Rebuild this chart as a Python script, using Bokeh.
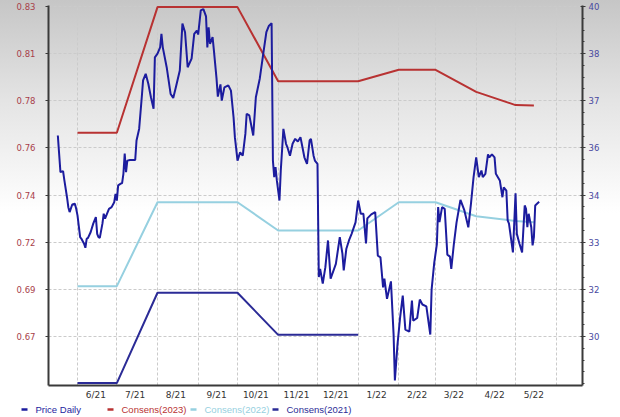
import numpy as np
import pandas as pd
from bokeh.plotting import figure
from bokeh.layouts import column
from bokeh.models import Range1d, LinearAxis, FixedTicker
from bokeh.core.properties import value
from bokeh.embed import file_html
from bokeh.resources import INLINE

# ---------------- data ----------------
price_start = "2021-05-15"   # day 0 of price_day
price_day = [2,4,6,7,9,10,11,13,15,16,17,19,20,22,23,24,25,27,29,31,
             32,33,34,36,37,38,41,43,45,46,47,48,50,51,52,53,54,55,57,61,
             62,64,66,67,69,71,73,75,76,78,80,81,82,85,88,90,92,95,97,99,
             101,104,106,108,109,111,113,115,116,117,118,120,121,123,124,126,127,129,132,134,
             136,137,138,139,141,143,145,146,148,151,153,156,159,161,163,165,166,167,168,169,
             171,172,174,176,177,179,181,183,185,187,188,190,192,194,195,197,198,200,201,202,
             204,206,208,210,214,217,219,220,222,224,226,229,231,233,235,237,238,241,244,246,
             248,250,251,253,256,258,259,261,263,265,267,270,272,273,276,278,280,283,286,287,
             289,291,292,293,295,297,299,301,302,304,306,309,312,315,317,319,321,323,325,326,
             328,330,331,333,335,336,339,341,342,344,345,346,349,350,351,352,354,356,358,359,
             360,361,363,364,365,366,369]
price_value = [36.09,34.98,35.01,34.73,34.22,33.92,33.77,34.00,34.02,33.87,
               33.67,33.01,32.96,32.81,32.69,32.96,32.99,33.16,33.42,33.62,
               33.11,33.01,32.99,33.42,33.72,33.57,33.87,33.92,34.07,34.32,
               34.12,34.58,34.63,34.65,34.93,35.54,34.98,35.33,35.35,35.35,
               35.94,36.29,37.25,37.76,37.96,37.66,37.25,36.90,38.46,38.57,
               38.76,39.17,38.77,38.16,37.35,37.23,37.55,38.06,39.48,39.22,
               38.16,38.42,39.17,39.27,39.15,39.88,39.92,39.70,38.76,39.37,
               38.87,39.07,38.67,37.82,37.27,37.64,37.15,37.55,37.61,37.45,
               36.64,36.04,35.69,35.33,35.58,35.48,36.14,36.75,36.70,36.09,
               37.25,37.82,38.67,39.22,39.42,39.49,35.33,34.83,35.13,34.73,
               34.12,35.03,36.29,35.84,35.74,35.48,35.84,35.99,35.91,36.04,
               35.84,35.43,35.23,35.94,35.99,35.48,35.33,35.23,31.80,32.05,
               31.60,32.10,32.91,31.75,32.20,33.01,32.51,32.00,32.66,32.91,
               33.11,33.46,34.12,33.72,33.72,32.82,33.58,33.70,33.77,32.45,
               32.40,31.49,31.75,31.14,31.67,30.08,28.67,29.76,30.58,31.24,
               30.21,30.15,31.09,30.48,30.56,31.12,30.97,30.91,30.06,31.42,
               32.23,32.79,33.92,33.47,33.92,33.87,32.48,32.42,32.05,32.81,
               33.45,34.14,33.82,33.31,34.02,34.83,35.43,34.83,35.03,34.83,
               34.93,35.52,35.43,35.52,35.43,34.93,34.73,34.22,34.52,34.42,
               33.52,33.42,32.55,33.42,34.34,33.11,32.81,32.55,33.97,33.87,
               33.31,33.72,33.31,32.76,33.01,33.97,34.08]

cons_2023_dates = ["2021-06-01", "2021-07-01", "2021-08-01", "2021-10-01", "2021-11-01", "2022-01-01",
                   "2022-02-01", "2022-03-01", "2022-04-01", "2022-05-01", "2022-05-15"]
cons_2023 = [0.7688, 0.7688, 0.8297, 0.8297, 0.7938, 0.7938, 0.7993, 0.7993, 0.7886, 0.7822, 0.7820]
cons_2022_dates = ["2021-06-01", "2021-07-01", "2021-08-01", "2021-10-01", "2021-11-01", "2022-01-01",
                   "2022-02-01", "2022-03-01", "2022-04-01", "2022-05-01", "2022-05-15"]
cons_2022 = [0.6944, 0.6944, 0.7351, 0.7351, 0.7214, 0.7214, 0.7351, 0.7351, 0.7283, 0.7260, 0.7254]
cons_2021_dates = ["2021-06-01", "2021-07-01", "2021-08-01", "2021-10-01", "2021-11-01", "2022-01-01"]
cons_2021 = [0.6474, 0.6474, 0.6912, 0.6912, 0.6708, 0.6708]

month_labels = ["6/21", "7/21", "8/21", "9/21", "10/21", "11/21", "12/21",
                "1/22", "2/22", "3/22", "4/22", "5/22"]
month_label_dates = ["2021-06-15", "2021-07-15", "2021-08-15", "2021-09-15", "2021-10-15",
                     "2021-11-15", "2021-12-15", "2022-01-15", "2022-02-15", "2022-03-15",
                     "2022-04-15", "2022-05-15"]
grid_month_dates = ["2021-06-01", "2021-07-01", "2021-08-01", "2021-09-01", "2021-10-01",
                    "2021-11-01", "2021-12-01", "2022-01-01", "2022-02-01", "2022-03-01",
                    "2022-04-01", "2022-05-01", "2022-06-01"]
left_tick_labels = ["0.67", "0.69", "0.72", "0.74", "0.76", "0.78", "0.81", "0.83"]
right_tick_labels = ["30", "32", "33", "34", "36", "37", "38", "40"]

legend_labels = ["Price Daily", "Consens(2023)", "Consens(2022)", "Consens(2021)"]

# ---------------- styles ----------------
PRICE_C = "#1c1c9e"
C23 = "#b83232"
C22 = "#96d0e0"
C21 = "#2b2b96"
LEFT_LBL = "#a8404a"
RIGHT_LBL = "#4848a0"
AXIS_C = "#3a3a3a"
GRID_C = "#cbcbcb"
W = 620


def ms(d):
    return pd.Timestamp(d).value / 1e6


DAY = 86400000.0
px = [ms(price_start) + d * DAY for d in price_day]

x_start = ms("2021-05-09 21:19")
x_end = ms("2022-06-21 01:26")

p = figure(frame_width=534, frame_height=380, x_axis_type="datetime",
           x_range=Range1d(x_start, x_end), y_range=Range1d(0.646242, 0.830485),
           output_backend="svg", toolbar_location=None,
           min_border_left=48, min_border_right=38, min_border_top=5, min_border_bottom=16,
           margin=0)
p.background_fill_color = None
p.border_fill_color = None
p.outline_line_color = None
p.styles = {"background": "linear-gradient(to bottom, #c6c6c6 0%, #e4e4e4 25%, #ffffff 53%, #ffffff 100%)"}

p.extra_y_ranges = {"price": Range1d(28.51515, 40.0303)}

# left axis
left_ticks = list(np.linspace(0.67, 0.83, len(left_tick_labels)))
ya = p.yaxis[0]
ya.ticker = FixedTicker(ticks=left_ticks)
ya.major_label_overrides = {t: l for t, l in zip(left_ticks, left_tick_labels)}
ya.major_label_text_color = LEFT_LBL
ya.major_label_text_font = "DejaVu Sans"
ya.major_label_text_font_size = "8.5px"
ya.major_label_standoff = 10
ya.major_tick_out = 3
ya.major_tick_in = 0
ya.minor_tick_line_color = None
ya.minor_tick_out = 0
ya.axis_line_color = AXIS_C
ya.axis_line_width = 2
ya.major_tick_line_color = AXIS_C

# right axis
right_ticks = list(np.linspace(30, 40, len(right_tick_labels)))
minor_step = (right_ticks[1] - right_ticks[0]) / 4
right_minor = [30 + k * minor_step for k in range(-4, 29)]
ra = LinearAxis(y_range_name="price",
                ticker=FixedTicker(ticks=right_ticks, minor_ticks=right_minor))
ra.major_label_overrides = {t: l for t, l in zip(right_ticks, right_tick_labels)}
ra.major_label_text_color = RIGHT_LBL
ra.major_label_text_font = "DejaVu Sans"
ra.major_label_text_font_size = "8.5px"
ra.major_label_standoff = 3
ra.major_tick_out = 3
ra.major_tick_in = 2
ra.minor_tick_out = 2
ra.minor_tick_in = 0
ra.axis_line_color = AXIS_C
ra.axis_line_width = 2
ra.major_tick_line_color = AXIS_C
ra.minor_tick_line_color = AXIS_C
p.add_layout(ra, "right")

# bottom axis
lbl_ticks = [ms(d) for d in month_label_dates]
xa = p.xaxis[0]
xa.ticker = FixedTicker(ticks=lbl_ticks)
xa.major_label_overrides = {t: l for t, l in zip(lbl_ticks, month_labels)}
xa.major_label_text_color = "#333333"
xa.major_label_text_font = "DejaVu Sans"
xa.major_label_text_font_size = "9px"
xa.major_label_standoff = 4
xa.major_tick_line_color = None
xa.minor_tick_line_color = None
xa.major_tick_out = 0
xa.minor_tick_out = 0
xa.axis_line_color = AXIS_C
xa.axis_line_width = 2

# grids
p.xgrid.ticker = FixedTicker(ticks=[ms(d) for d in grid_month_dates])
p.xgrid.grid_line_color = GRID_C
p.xgrid.grid_line_dash = "3 2"
p.ygrid.grid_line_color = GRID_C
p.ygrid.grid_line_dash = "3 2"

# series
p.line([ms(d) for d in cons_2023_dates], cons_2023, line_color=C23, line_width=2)
p.line([ms(d) for d in cons_2022_dates], cons_2022, line_color=C22, line_width=2)
p.line([ms(d) for d in cons_2021_dates], cons_2021, line_color=C21, line_width=2)
p.line(px, price_value, y_range_name="price", line_color=PRICE_C, line_width=2)

# ---------------- legend strip (own small figure, pixel coordinates) ----------------
LH = 16
lg = figure(frame_width=W, frame_height=LH, x_range=Range1d(0, W), y_range=Range1d(0, LH),
            output_backend="svg", toolbar_location=None, min_border=0, margin=0)
lg.axis.visible = False
lg.grid.visible = False
lg.outline_line_color = None
lg.background_fill_color = None
lg.border_fill_color = None
if hasattr(lg, "frame_align"):
    lg.frame_align = False
    p.frame_align = False

leg_colors = [PRICE_C, C23, C22, C21]
dash_x = [21, 107, 190, 272]
lg.segment(x0=dash_x, y0=[LH / 2 + 1] * 4, x1=[x + 6 for x in dash_x], y1=[LH / 2 + 1] * 4,
           line_color=leg_colors, line_width=2.5)
lg.text(x=[x + 14 for x in dash_x], y=[LH / 2 + 1] * 4, text=legend_labels,
        text_color=leg_colors, text_baseline="middle", text_align="left",
        text_font=value("Liberation Sans"), text_font_size=value("9.5px"))

layout = column(p, lg, spacing=0, margin=0)
open("out.html", "w").write(file_html(layout, INLINE))
